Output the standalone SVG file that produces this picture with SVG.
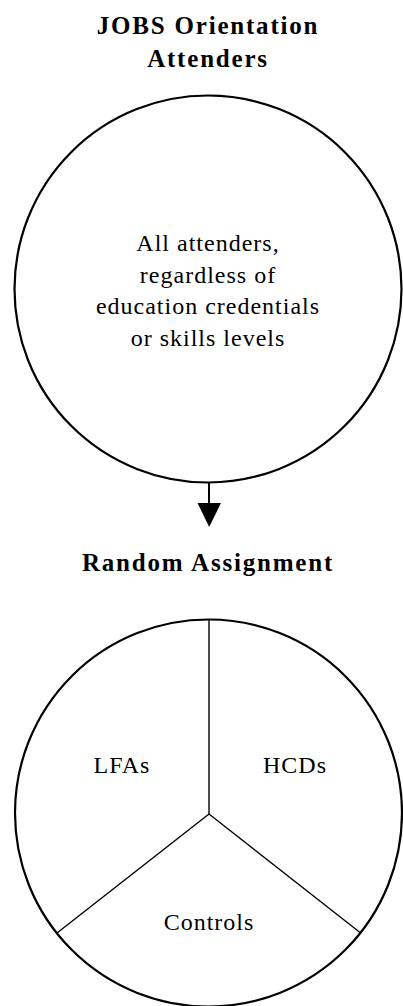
<svg xmlns="http://www.w3.org/2000/svg" width="403" height="1006" viewBox="0 0 403 1006">
<style>
.title{font-family:"Liberation Serif",serif;font-weight:bold;font-size:25px;letter-spacing:1.8px;text-anchor:middle;fill:#000}
.body{font-family:"Liberation Serif",serif;font-size:24px;letter-spacing:1px;text-anchor:middle;fill:#000}
.circ{fill:none;stroke:#000;stroke-width:2.2}
.spoke{fill:none;stroke:#000;stroke-width:1.4}
</style>
<defs>
<marker id="arr" markerWidth="24" markerHeight="24" refX="12" refY="0" orient="auto" markerUnits="userSpaceOnUse" viewBox="0 -12 24 24">
<path d="M0,-12 L24,0 L0,12 Z" fill="#000"/>
</marker>
</defs>
<rect width="403" height="1006" fill="#fff"/>
<g id="title-top">
<text class="title" x="208" y="34">JOBS Orientation</text>
<text class="title" x="208" y="67">Attenders</text>
</g>
<g id="attenders">
<circle class="circ" cx="208" cy="289" r="193.5"/>
<text class="body" x="208" y="251">All attenders,</text>
<text class="body" x="208" y="282.5">regardless of</text>
<text class="body" x="208" y="314">education credentials</text>
<text class="body" x="208" y="345.5">or skills levels</text>
</g>
<g id="connectors">
<line x1="209" y1="482" x2="209" y2="503" stroke="#000" stroke-width="2"/>
<path d="M197.5,503 L221,503 L209.2,527 Z" fill="#000"/>
</g>
<g id="title-random">
<text class="title" x="208" y="571">Random Assignment</text>
</g>
<g id="assignment">
<circle class="circ" cx="208.5" cy="813" r="193.5"/>
<line class="spoke" x1="209" y1="620" x2="209" y2="814"/>
<line class="spoke" x1="209" y1="814" x2="57.3" y2="932.7"/>
<line class="spoke" x1="209" y1="814" x2="361" y2="933.3"/>
</g>
<g id="lfas"><text class="body" x="122" y="773">LFAs</text></g>
<g id="hcds"><text class="body" x="295" y="773">HCDs</text></g>
<g id="controls"><text class="body" x="209" y="930">Controls</text></g>
</svg>
